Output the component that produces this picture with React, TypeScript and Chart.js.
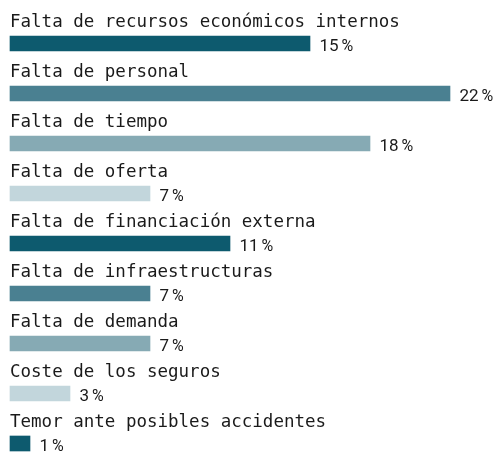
import React, { useEffect, useRef } from "react";
import { Chart, registerables } from "chart.js";

Chart.register(...registerables);

const categories = [
  "Falta de recursos económicos internos",
  "Falta de personal",
  "Falta de tiempo",
  "Falta de oferta",
  "Falta de financiación externa",
  "Falta de infraestructuras",
  "Falta de demanda",
  "Coste de los seguros",
  "Temor ante posibles accidentes",
];
const values = [15, 22, 18, 7, 11, 7, 7, 3, 1];
const palette = ["#0d5a6e", "#4a8091", "#86aab4", "#c2d6dc"];

const labelPlugin = {
  id: "rowLabels",
  afterDatasetsDraw(chart: any) {
    const ctx = chart.ctx;
    const meta = chart.getDatasetMeta(0);
    ctx.save();
    ctx.fillStyle = "#1a1a1a";
    meta.data.forEach((bar: any, i: number) => {
      const top = bar.y - bar.height / 2;
      ctx.font = "17.5px 'DejaVu Sans Mono'";
      ctx.textAlign = "left";
      ctx.textBaseline = "alphabetic";
      ctx.fillText(categories[i], 10, top - 9);
      ctx.font = "17px Roboto";
      const v = String(values[i]);
      const x0 = bar.x + 9.5;
      ctx.fillText(v, x0, bar.y + 7.5);
      const w = ctx.measureText(v).width;
      ctx.font = "16px Roboto";
      ctx.fillText("%", x0 + w + 3, bar.y + 7.5);
    });
    ctx.restore();
  },
};

export default function App() {
  const ref = useRef<HTMLCanvasElement>(null);
  useEffect(() => {
    if (!ref.current) return;
    const chart = new Chart(ref.current, {
      type: "bar",
      data: {
        labels: categories,
        datasets: [
          {
            data: values,
            backgroundColor: values.map((_, i) => palette[i % 4]),
            barThickness: 15,
            clip: false as any,
            borderWidth: 0,
          },
        ],
      },
      options: {
        indexAxis: "y",
        animation: false,
        responsive: true,
        maintainAspectRatio: false,
        layout: { padding: { left: 10, right: 3, top: 43.5, bottom: 12.5 } },
        plugins: { legend: { display: false }, tooltip: { enabled: false } },
        scales: {
          x: { display: false, min: 0, max: 24 },
          y: { display: false, offset: false },
        },
      },
      plugins: [labelPlugin],
    });
    return () => chart.destroy();
  }, []);
  return (
    <div style={{ position: "fixed", left: 0, top: 0, width: 493, height: 456, background: "#fff" }}>
      <canvas ref={ref} />
    </div>
  );
}
